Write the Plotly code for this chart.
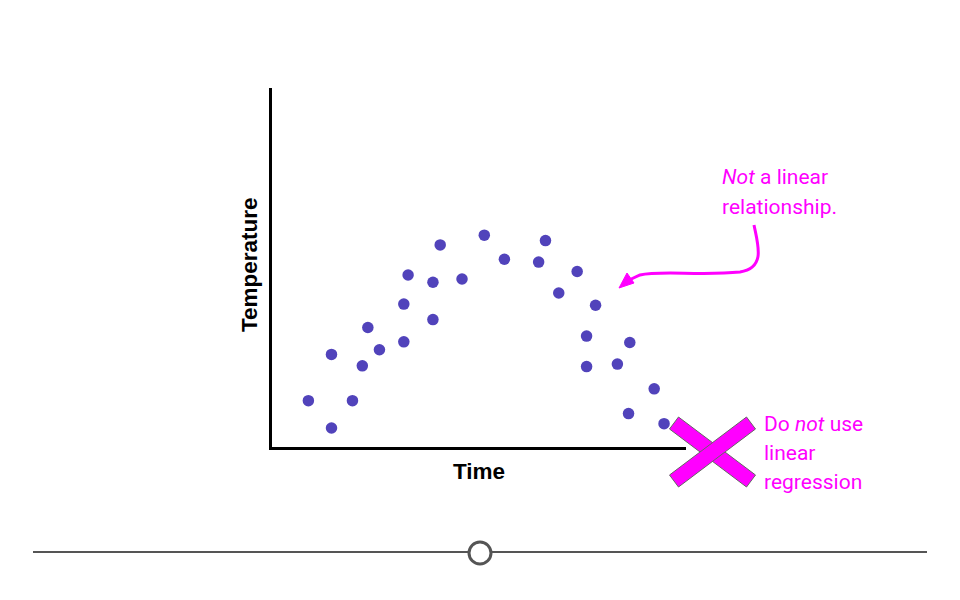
import plotly.graph_objects as go

# Data (time, temperature) in arbitrary units 0-100
time = [8.5, 13.9, 18.8, 13.9, 21.1, 22.4, 25.1, 30.8, 30.8, 31.8, 37.6, 37.6, 39.3, 44.4,
        49.6, 54.3, 62.3, 63.9, 67.0, 71.3, 75.6, 73.5, 73.5, 80.7, 83.6, 89.3, 83.3, 91.6]
temperature = [12.9, 5.3, 12.9, 25.8, 22.6, 33.3, 27.1, 29.3, 39.8, 47.9, 45.9, 35.5, 56.3, 46.8,
               59.0, 52.3, 51.5, 57.5, 42.9, 48.9, 39.5, 30.9, 22.4, 23.1, 29.1, 16.2, 9.3, 6.5]

x_title = "Time"
y_title = "Temperature"
note_top = ["<i>Not</i> a linear", "relationship."]
note_bottom = ["Do <i>not</i> use", "linear", "regression"]

W, H = 960, 600
L, R, T, B = 272, 274, 88, 153
PW, PH = W - L - R, H - T - B
XMAX = 100 * PW / 428.0

def px(x):
    return (x - L) / PW

def py(y):
    return (H - B - y) / PH

MAG = "#ff00ff"

fig = go.Figure()
fig.add_trace(go.Scatter(
    x=time, y=temperature, mode="markers",
    marker=dict(size=11.5, color="#5143bb", line=dict(width=0)),
    hoverinfo="skip", showlegend=False,
))

shapes = []
# curved arrow
path = (f"M {px(754)},{py(225)} C {px(758)},{py(245)} {px(766)},{py(268)} {px(740)},{py(272)} "
        f"C {px(700)},{py(276)} {px(660)},{py(270)} {px(640)},{py(275)} "
        f"L {px(627)},{py(281)}")
shapes.append(dict(type="path", xref="paper", yref="paper", path=path,
                   line=dict(color=MAG, width=3)))
head = (f"M {px(619)},{py(288)} L {px(627)},{py(273)} L {px(634)},{py(283)} Z")
shapes.append(dict(type="path", xref="paper", yref="paper", path=head,
                   fillcolor=MAG, line=dict(color=MAG, width=1)))

# big X
def poly(pts):
    return "M " + " L ".join(f"{px(a)},{py(b)}" for a, b in pts) + " Z"

bar1 = [(678.5, 417), (755.5, 475), (746.5, 487), (669.5, 429)]
bar2 = [(746.5, 417), (755.5, 429), (678.5, 487), (669.5, 475)]
for b in (bar1, bar2):
    shapes.append(dict(type="path", xref="paper", yref="paper", path=poly(b),
                       fillcolor=MAG, line=dict(color="#666666", width=1)))

# bottom slider line and knob
shapes.append(dict(type="line", xref="paper", yref="paper",
                   x0=px(33), x1=px(927), y0=py(552), y1=py(552),
                   line=dict(color="#555555", width=2)))
shapes.append(dict(type="circle", xref="paper", yref="paper",
                   x0=px(469), x1=px(491), y0=py(542), y1=py(564),
                   fillcolor="white", line=dict(color="#555555", width=3)))

TITLE_FONT = dict(family="Liberation Sans, Arial", size=22.5, color="black")
annotations = [
    dict(text=f"<b>{x_title}</b>", xref="paper", yref="paper", x=px(479), y=py(471),
         showarrow=False, font=TITLE_FONT, xanchor="center", yanchor="middle"),
    dict(text=f"<b>{y_title}</b>", xref="paper", yref="paper", x=px(249), y=py(265),
         showarrow=False, textangle=-90, font=TITLE_FONT,
         xanchor="center", yanchor="middle"),
]
for i, line in enumerate(note_top):
    annotations.append(dict(text=line, xref="paper", yref="paper", x=px(720), y=py(177 + 30 * i),
                            showarrow=False, align="left", xanchor="left", yanchor="middle",
                            font=dict(family="Roboto", size=21, color=MAG)))
for i, line in enumerate(note_bottom):
    annotations.append(dict(text=line, xref="paper", yref="paper", x=px(762), y=py(424 + 29 * i),
                            showarrow=False, align="left", xanchor="left", yanchor="middle",
                            font=dict(family="Roboto", size=21, color=MAG)))

fig.update_layout(
    width=W, height=H,
    margin=dict(l=L, r=R, t=T, b=B, pad=0),
    paper_bgcolor="white", plot_bgcolor="white",
    xaxis=dict(range=[0, XMAX], showgrid=False, zeroline=False, showticklabels=False,
               ticks="", showline=True, linecolor="black", linewidth=3, fixedrange=True),
    yaxis=dict(range=[0, 100], showgrid=False, zeroline=False, showticklabels=False,
               ticks="", showline=True, linecolor="black", linewidth=3, fixedrange=True),
    shapes=shapes, annotations=annotations,
)

fig.write_html("out.html", config={"displayModeBar": False})
